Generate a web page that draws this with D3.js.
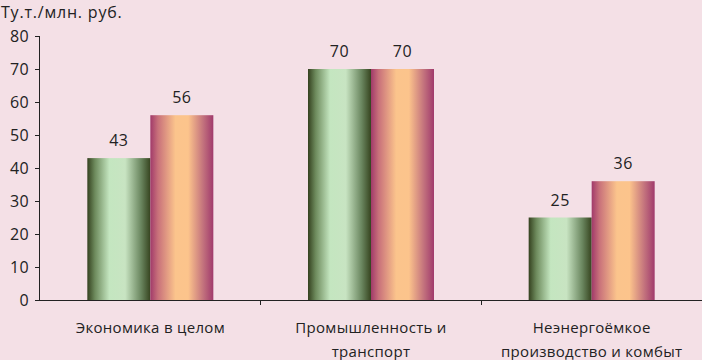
<!DOCTYPE html>
<html lang="ru">
<head>
<meta charset="utf-8">
<title>Энергоёмкость</title>
<script src="https://d3js.org/d3.v7.min.js"></script>
<style>
    html, body { margin: 0; padding: 0; background: #f4e0e6; }
    text { font-family: "Open Sans", "DejaVu Sans", sans-serif; fill: #222; }
    .axis path, .axis line { stroke: #222; shape-rendering: crispEdges; }
    .axis text { font-size: 15px; letter-spacing: 0.3px; }
</style>
</head>
<body>
<script>
    var categories = [["Экономика в целом"], ["Промышленность и", "транспорт"], ["Неэнергоёмкое", "производство и комбыт"]];
    var series = ["s1", "s2"];
    var values1 = [43, 70, 25];
    var values2 = [56, 70, 36];
    var yTicks = [0, 10, 20, 30, 40, 50, 60, 70, 80];
    var unitLabel = "Ту.т./млн. руб.";

    var W = 702, H = 360;
    var margin = {left: 40, right: 0, top: 36, bottom: 60};
    var width = W - margin.left - margin.right;
    var height = H - margin.top - margin.bottom;

    var svg = d3.select("body").append("svg").attr("width", W).attr("height", H);

    var defs = svg.append("defs");
    var g1 = defs.append("linearGradient").attr("id", "gGreen");
    [[0, "#34411f"], [0.12, "#6d8a5c"], [0.35, "#c4e6c0"], [0.6, "#c8e4c2"], [0.85, "#6b8760"], [1, "#36441f"]]
        .forEach(function (s) { g1.append("stop").attr("offset", s[0]).attr("stop-color", s[1]); });
    var g2 = defs.append("linearGradient").attr("id", "gOrange");
    [[0, "#a13a6a"], [0.12, "#c8707a"], [0.4, "#fbc48c"], [0.6, "#fcc48c"], [0.85, "#c06e7c"], [1, "#a03a6c"]]
        .forEach(function (s) { g2.append("stop").attr("offset", s[0]).attr("stop-color", s[1]); });

    var chart = svg.append("g").attr("transform", "translate(" + margin.left + "," + margin.top + ")");

    var x = d3.scaleBand().domain(d3.range(categories.length)).range([0, width]);
    var xs = d3.scaleBand().domain(series).range([0, 126]);
    var y = d3.scaleLinear().domain([0, 80]).range([height, 0]);

    // y axis
    chart.append("g").attr("class", "axis y")
        .call(d3.axisLeft(y).tickValues(yTicks).tickSize(5).tickPadding(6))
        .call(function (g) { g.select(".domain").attr("d", "M-0.5," + height + "V0H-5"); })
        .selectAll("text").style("font-size", "16px");

    // bars
    var data = categories.map(function (c, i) { return {i: i, v: [values1[i], values2[i]]}; });
    var groups = chart.selectAll(".grp").data(data).enter().append("g")
        .attr("transform", function (d) { return "translate(" + (x(d.i) + x.bandwidth() / 2 - 63) + ",0)"; });
    series.forEach(function (s, k) {
        groups.append("rect")
            .attr("x", xs(s))
            .attr("y", function (d) { return y(d.v[k]); })
            .attr("width", xs.bandwidth())
            .attr("height", function (d) { return height - y(d.v[k]); })
            .attr("fill", k === 0 ? "url(#gGreen)" : "url(#gOrange)");
        groups.append("text")
            .attr("x", xs(s) + xs.bandwidth() / 2)
            .attr("y", function (d) { return y(d.v[k]) - 12; })
            .attr("text-anchor", "middle")
            .style("font-size", "16px")
            .style("letter-spacing", "0.5px")
            .text(function (d) { return d.v[k]; });
    });

    // x axis
    var xAxis = chart.append("g").attr("class", "axis x").attr("transform", "translate(0," + height + ")");
    xAxis.append("line").attr("x1", 0).attr("x2", width).attr("y1", 0.5).attr("y2", 0.5);
    xAxis.selectAll(".tk").data(d3.range(1, categories.length)).enter().append("line")
        .attr("x1", function (i) { return x(i); }).attr("x2", function (i) { return x(i); })
        .attr("y1", 0).attr("y2", 5);
    xAxis.selectAll(".cat").data(categories).enter().append("text")
        .attr("text-anchor", "middle")
        .attr("transform", function (d, i) { return "translate(" + (x(i) + x.bandwidth() / 2) + ",0)"; })
        .each(function (d) {
            var t = d3.select(this);
            d.forEach(function (line, j) {
                t.append("tspan").attr("x", 0).attr("y", 33 + j * 24).text(line);
            });
        });

    svg.append("text").attr("x", 1).attr("y", 18).style("font-size", "16px").style("letter-spacing", "0.8px").text(unitLabel);
</script>
</body>
</html>
